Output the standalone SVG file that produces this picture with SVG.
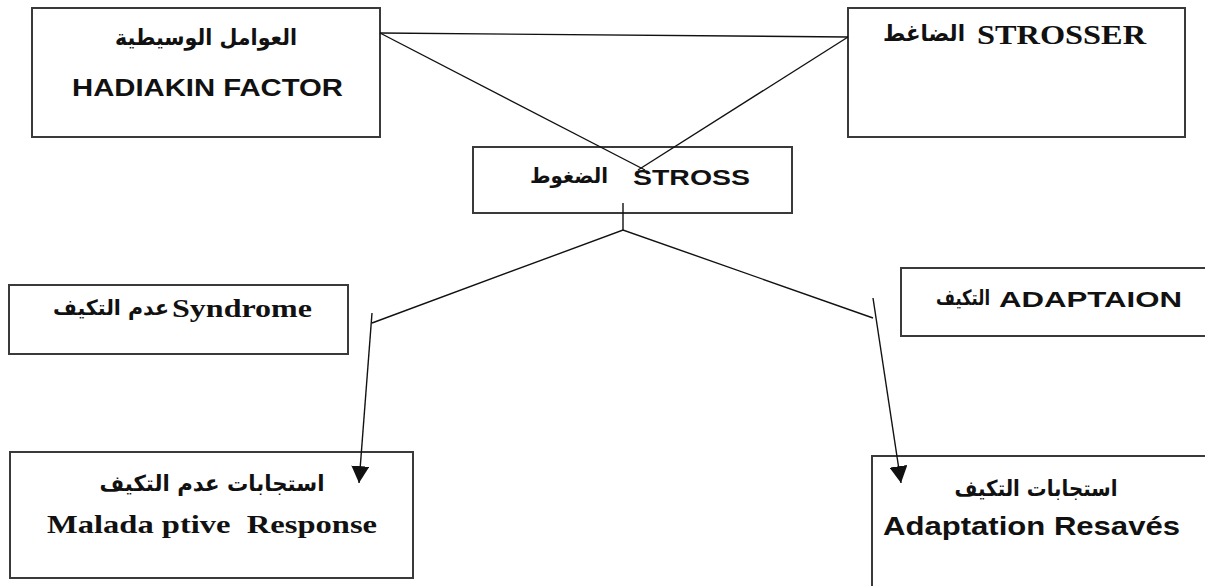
<svg xmlns="http://www.w3.org/2000/svg" width="1205" height="586" viewBox="0 0 1205 586">
<style>
.box{fill:#fff;stroke:#3a3a3a;stroke-width:2}
.ln{fill:none;stroke:#111;stroke-width:1.4}
.sans{font-family:"Liberation Sans","DejaVu Sans",sans-serif;font-weight:bold;fill:#111}
.serif{font-family:"Liberation Serif","DejaVu Serif",serif;font-weight:bold;fill:#111}
.ar{font-family:"DejaVu Sans","Noto Sans",sans-serif;font-weight:bold;fill:#111}
</style>
<defs>
<marker id="arr" markerUnits="userSpaceOnUse" markerWidth="18" markerHeight="18" refX="15" refY="8" orient="auto" viewBox="0 0 16 16">
<path d="M0,0 L15,8 L0,16 Z" fill="#111"/>
</marker>
</defs>
<rect width="1205" height="586" fill="#fff"/>
<g id="hadiakin">
<rect class="box" x="32" y="8" width="348" height="129"/>
<text class="ar" x="206" y="45" font-size="22" text-anchor="middle" textLength="182" lengthAdjust="spacingAndGlyphs" direction="rtl">العوامل الوسيطية</text>
<text class="sans" x="72" y="96" font-size="24" textLength="271" lengthAdjust="spacingAndGlyphs">HADIAKIN FACTOR</text>
</g>
<g id="strosser">
<rect class="box" x="848" y="8" width="337" height="129"/>
<text class="ar" x="924" y="41" font-size="23" text-anchor="middle" textLength="82" lengthAdjust="spacingAndGlyphs" direction="rtl">الضاغط</text>
<text class="serif" x="977" y="44" font-size="27" textLength="169" lengthAdjust="spacingAndGlyphs">STROSSER</text>
</g>
<g id="stross">
<rect class="box" x="473" y="147" width="319" height="66"/>
<text class="ar" x="569" y="183" font-size="21" text-anchor="middle" textLength="78" lengthAdjust="spacingAndGlyphs" direction="rtl">الضغوط</text>
<text class="sans" x="633" y="185" font-size="22" textLength="117" lengthAdjust="spacingAndGlyphs">STROSS</text>
</g>
<g id="syndrome">
<rect class="box" x="9" y="285" width="339" height="69"/>
<text class="ar" x="111" y="315" font-size="21" text-anchor="middle" textLength="116" lengthAdjust="spacingAndGlyphs" direction="rtl">عدم التكيف</text>
<text class="serif" x="172" y="317" font-size="26" textLength="140" lengthAdjust="spacingAndGlyphs">Syndrome</text>
</g>
<g id="adaptaion">
<rect class="box" x="901" y="268" width="306" height="68"/>
<text class="ar" x="963" y="305" font-size="21" text-anchor="middle" textLength="54" lengthAdjust="spacingAndGlyphs" direction="rtl">التكيف</text>
<text class="sans" x="999" y="307" font-size="22" textLength="183" lengthAdjust="spacingAndGlyphs">ADAPTAION</text>
</g>
<g id="maladaptive">
<rect class="box" x="10" y="452" width="403" height="126"/>
<text class="ar" x="212" y="491" font-size="22" text-anchor="middle" textLength="225" lengthAdjust="spacingAndGlyphs" direction="rtl">استجابات عدم التكيف</text>
<text class="serif" x="47" y="533" font-size="25" textLength="330" lengthAdjust="spacingAndGlyphs" xml:space="preserve">Malada ptive  Response</text>
</g>
<g id="adaptation">
<rect class="box" x="872" y="456" width="336" height="140"/>
<text class="ar" x="1036" y="496" font-size="22" text-anchor="middle" textLength="163" lengthAdjust="spacingAndGlyphs" direction="rtl">استجابات التكيف</text>
<text class="sans" x="883" y="535" font-size="25" textLength="297" lengthAdjust="spacingAndGlyphs">Adaptation Resavés</text>
</g>
<g id="connectors">
<line class="ln" x1="380" y1="33" x2="848" y2="37"/>
<line class="ln" x1="380" y1="33" x2="645" y2="170"/>
<line class="ln" x1="848" y1="37" x2="638" y2="170"/>
<line class="ln" x1="623" y1="203" x2="623" y2="230"/>
<polyline class="ln" points="372,323 623,230 873,318"/>
<line class="ln" x1="372" y1="313" x2="359" y2="483" marker-end="url(#arr)"/>
<line class="ln" x1="873" y1="298" x2="901" y2="483" marker-end="url(#arr)"/>
</g>
</svg>
